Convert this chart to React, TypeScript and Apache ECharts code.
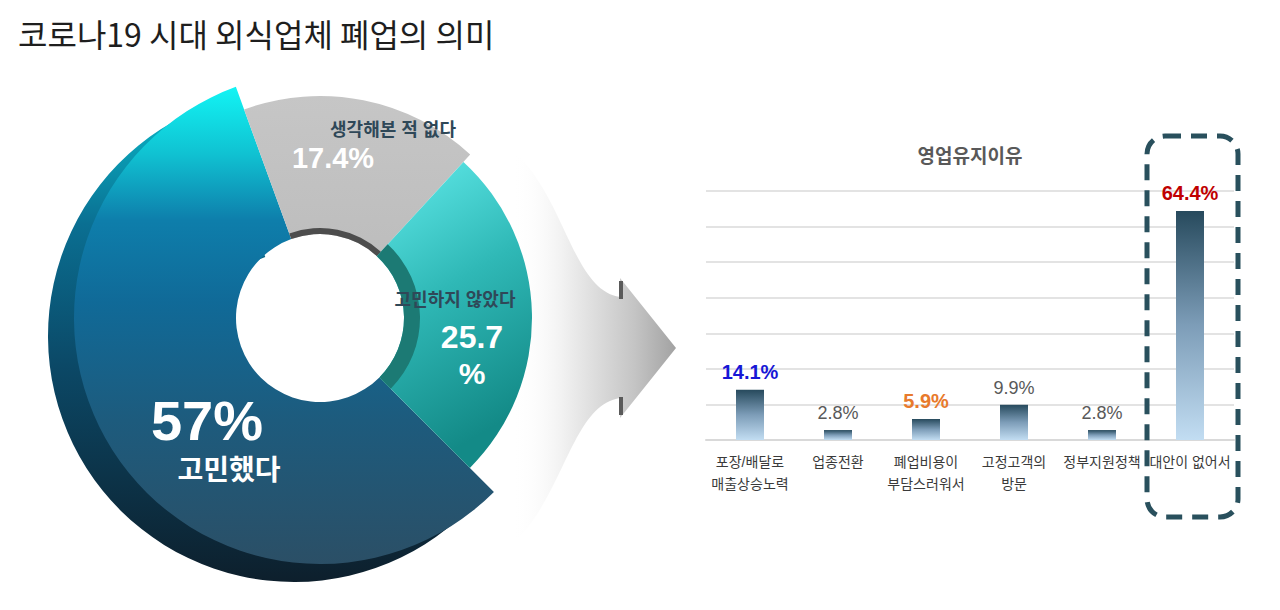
import React, { useEffect, useRef } from 'react';
import * as echarts from 'echarts';

const pageTitle = '코로나19 시대 외식업체 폐업의 의미';

// donut: 폐업 고민 여부
const donutNames = ['생각해본 적 없다', '고민하지 않았다', '고민했다'];
const donutValues = [17.4, 25.7, 57];

// bars: 영업유지이유
const barTitle = '영업유지이유';
const barCategories = [
  '포장/배달로\n매출상승노력',
  '업종전환',
  '폐업비용이\n부담스러워서',
  '고정고객의\n방문',
  '정부지원정책',
  '대안이 없어서',
];
const barValues = [14.1, 2.8, 5.9, 9.9, 2.8, 64.4];
const barLabelColors = ['#1717d6', '#595959', '#e87a2c', '#595959', '#595959', '#c00000'];
const barLabelBold = [true, false, true, false, false, true];
const yMin = 0;
const yMax = 70;
const yStep = 10;

const FONT = "'Liberation Sans', 'Noto Sans CJK KR', sans-serif";
const START = 110;

const arrowD =
  'M 512 150 C 565 195, 572 290, 620 297 L 620 278 L 676 348 L 620 418 L 620 398 C 572 405, 565 495, 512 545 Z';
echarts.graphic.registerShape('bigArrow', echarts.graphic.extendPath(arrowD, {}));

const vgrad = (stops: [number, string][]) => ({
  type: 'linear' as const,
  x: 0,
  y: 0,
  x2: 0,
  y2: 1,
  colorStops: stops.map(([offset, color]) => ({ offset, color })),
});

const sliceSeries = (idx: number, center: number[], radius: number[], color: any, z: number) => ({
  type: 'pie' as const,
  center,
  radius,
  startAngle: START,
  silent: true,
  z,
  label: { show: false },
  labelLine: { show: false },
  emphasis: { disabled: true },
  itemStyle: { borderWidth: 0 },
  data: donutValues.map((v, i) => ({
    value: v,
    name: donutNames[i],
    itemStyle: { color: i === idx ? color : 'rgba(0,0,0,0)' },
  })),
});

const Chart: React.FC = () => {
  const chartRef = useRef<HTMLDivElement | null>(null);

  useEffect(() => {
    if (!chartRef.current) return;
    const myChart = echarts.init(chartRef.current, null, { renderer: 'svg' });

    const pct = (v: number) => `${v}%`;

    const txt = (x: number, y: number, text: string, fill: string, font: string) => ({
      type: 'text',
      z: 10,
      x,
      y,
      silent: true,
      style: { text, fill, font, textAlign: 'center', textVerticalAlign: 'middle' },
    });

    const option: any = {
      animation: false,
      backgroundColor: '#ffffff',
      textStyle: { fontFamily: FONT },
      title: {
        text: pageTitle,
        left: 13,
        top: 12,
        textStyle: {
          fontFamily: "'Noto Sans CJK KR', sans-serif",
          fontSize: 32,
          fontWeight: 'normal',
          color: '#1e1e1e',
        },
      },
      grid: { left: 706, right: 46, top: 191, bottom: 170 },
      xAxis: {
        type: 'category',
        data: barCategories,
        axisLine: { lineStyle: { color: '#d9d9d9', width: 2 } },
        axisTick: { show: false },
        axisLabel: {
          interval: 0,
          color: '#3a3a3a',
          fontSize: 14,
          lineHeight: 22,
          margin: 11,
          fontFamily: FONT,
        },
      },
      yAxis: {
        type: 'value',
        min: yMin,
        max: yMax,
        interval: yStep,
        axisLabel: { show: false },
        axisLine: { show: false },
        axisTick: { show: false },
        splitLine: { lineStyle: { color: '#e3e3e3', width: 2 } },
      },
      series: [
        // 3D rim of the big slice
        sliceSeries(
          2,
          [294, 336],
          [84, 246],
          vgrad([
            [0, '#0ab8c8'],
            [0.25, '#0a6f92'],
            [0.55, '#0b4866'],
            [1, '#0d1f2c'],
          ]),
          1,
        ),
        // big slice face
        sliceSeries(
          2,
          [320, 318],
          [84, 246],
          vgrad([
            [0, '#12f4f4'],
            [0.14, '#10c2d2'],
            [0.28, '#0e7eab'],
            [0.45, '#106a98'],
            [0.7, '#1d5b7d'],
            [1, '#2b4f66'],
          ]),
          2,
        ),
        // gray slice
        sliceSeries(
          0,
          [320, 318],
          [84, 222],
          vgrad([
            [0, '#c6c6c6'],
            [1, '#bdbdbd'],
          ]),
          3,
        ),
        // teal slice
        sliceSeries(
          1,
          [320, 318],
          [84, 212],
          {
            type: 'linear',
            x: 0,
            y: 0,
            x2: 0.3,
            y2: 1,
            colorStops: [
              { offset: 0, color: '#62ecec' },
              { offset: 0.5, color: '#2fb8b6' },
              { offset: 1, color: '#138a87' },
            ],
          },
          3,
        ),
        // inner walls
        sliceSeries(0, [320, 318], [84, 90], '#4d4d4d', 4),
        sliceSeries(1, [320, 318], [84, 100], '#1c7a74', 4),
        {
          type: 'bar',
          data: barValues.map((v, i) => ({
            value: v,
            label: {
              color: barLabelColors[i],
              fontWeight: barLabelBold[i] ? 'bold' : 'normal',
              fontSize: barLabelBold[i] ? 20 : 18,
            },
          })),
          barWidth: 28,
          itemStyle: {
            color: vgrad([
              [0, '#274a5d'],
              [0.5, '#7d9db8'],
              [1, '#c2ddf2'],
            ]),
          },
          label: {
            show: true,
            position: 'top',
            distance: 8,
            fontSize: 18,
            fontFamily: FONT,
            formatter: (p: any) => pct(p.value),
          },
          silent: true,
        },
      ],
      graphic: [
        {
          type: 'bigArrow',
          x: 0,
          y: 0,
          z: 0,
          silent: true,
          style: {
            fill: {
              type: 'linear',
              x: 0,
              y: 0,
              x2: 1,
              y2: 0,
              colorStops: [
                { offset: 0, color: 'rgba(255,255,255,0)' },
                { offset: 0.3, color: '#f2f2f2' },
                { offset: 0.75, color: '#c4c4c4' },
                { offset: 1, color: '#a2a2a2' },
              ],
            },
          },
        },
        {
          type: 'line',
          z: 0,
          silent: true,
          shape: { x1: 621, y1: 281, x2: 621, y2: 299 },
          style: { stroke: '#5a5a5a', lineWidth: 4 },
        },
        {
          type: 'line',
          z: 0,
          silent: true,
          shape: { x1: 621, y1: 397, x2: 621, y2: 415 },
          style: { stroke: '#5a5a5a', lineWidth: 4 },
        },
        {
          type: 'rect',
          z: 10,
          silent: true,
          shape: { x: 1147, y: 136, width: 91, height: 381, r: 18 },
          style: { fill: 'none', stroke: '#29505d', lineWidth: 5, lineDash: [16, 10] },
        },
        txt(970, 156, barTitle, '#595959', `bold 19px ${FONT}`),
        txt(393, 130, donutNames[0], '#2f4858', `bold 18px ${FONT}`),
        txt(333, 158, pct(donutValues[0]), '#ffffff', `bold 29px ${FONT}`),
        txt(455, 300, donutNames[1], '#2f4858', `bold 18px ${FONT}`),
        txt(472, 337, `${donutValues[1]}`, '#ffffff', `bold 32px ${FONT}`),
        txt(472, 373, '%', '#ffffff', `bold 30px ${FONT}`),
        txt(207, 420, pct(donutValues[2]), '#ffffff', `bold 56px ${FONT}`),
        txt(229, 470, donutNames[2], '#ffffff', `bold 28px ${FONT}`),
      ],
    };

    myChart.setOption(option);

    return () => {
      myChart.dispose();
    };
  }, []);

  return (
    <div
      ref={chartRef}
      style={{ position: 'absolute', left: 0, top: 0, width: '1280px', height: '610px' }}
    />
  );
};

export default function App() {
  return <Chart />;
}
